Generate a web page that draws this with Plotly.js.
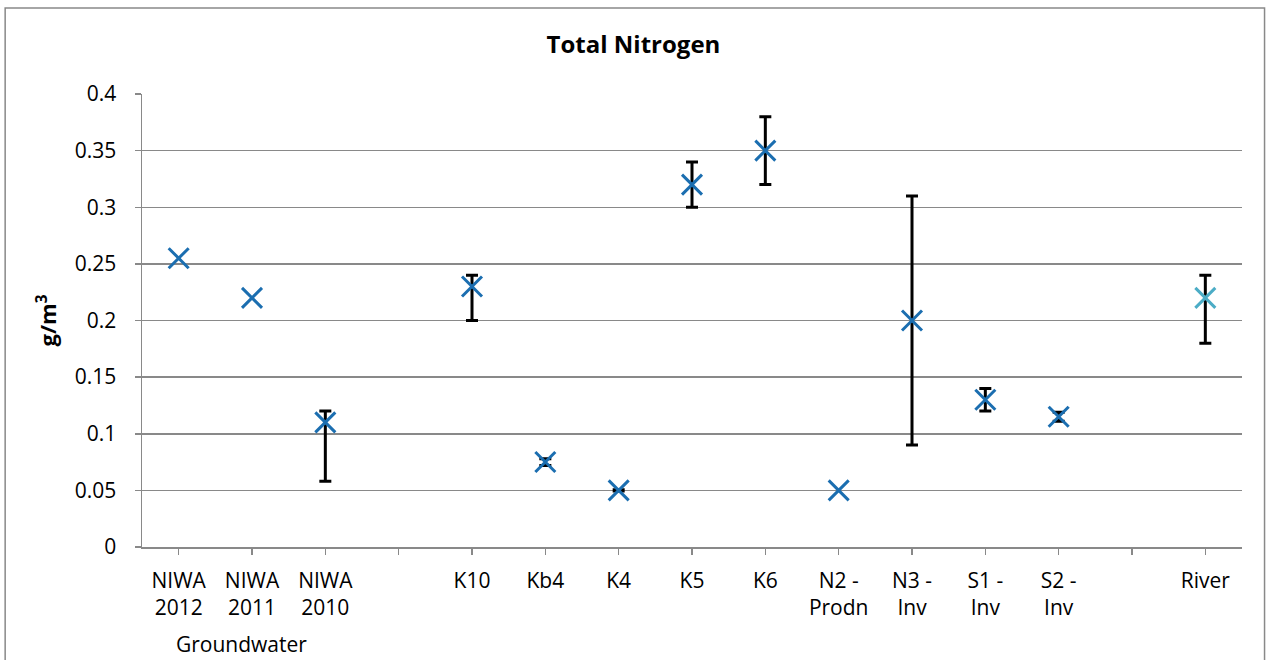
<!DOCTYPE html>
<html>
<head>
<meta charset="utf-8">
<script src="https://cdn.plot.ly/plotly-3.0.1.min.js"></script>
<style>html,body{margin:0;padding:0;background:#fff;}#chart{width:1267px;height:660px;}</style>
</head>
<body>
<div id="chart"></div>
<script>
// Category labels (blank slots are spacer categories)
const categories = ["NIWA<br>2012","NIWA<br>2011","NIWA<br>2010"," ","K10","Kb4","K4","K5","K6","N2 -<br>Prodn","N3 -<br>Inv","S1 -<br>Inv","S2 -<br>Inv"," ","River"];
// Site series (values in g/m3)
const siteNames = ["NIWA 2012","NIWA 2011","NIWA 2010","K10","Kb4","K4","K5","K6","N2 - Prodn","N3 - Inv","S1 - Inv","S2 - Inv"];
const siteIndex = [0,1,2,4,5,6,7,8,9,10,11,12];
const siteValues = [0.255,0.22,0.11,0.23,0.075,0.05,0.32,0.35,0.05,0.2,0.13,0.115];
const siteMax    = [null,null,0.12,0.24,0.078,0.0505,0.34,0.38,null,0.31,0.14,0.119];
const siteMin    = [null,null,0.058,0.2,0.072,0.0495,0.30,0.32,null,0.09,0.12,0.111];
// River series
const riverIndex = [14];
const riverValues = [0.22];
const riverMax = [0.24];
const riverMin = [0.18];

const up = (v, mx) => v.map((d,i)=> mx[i]===null ? NaN : +(mx[i]-d).toFixed(4));
const dn = (v, mn) => v.map((d,i)=> mn[i]===null ? NaN : +(d-mn[i]).toFixed(4));

const errStyle = {type:'data', symmetric:false, color:'#000', thickness:3, width:6};

const traces = [
  {x: siteIndex, y: siteValues, text: siteNames, type:'scatter', mode:'markers',
   marker:{symbol:'x-thin-open', size:20, line:{width:3, color:'#1B6EB0'}, color:'#1B6EB0'},
   error_y: Object.assign({array: up(siteValues, siteMax), arrayminus: dn(siteValues, siteMin)}, errStyle),
   showlegend:false, hoverinfo:'text+y'},
  {x: riverIndex, y: riverValues, text:["River"], type:'scatter', mode:'markers',
   marker:{symbol:'x-thin-open', size:20, line:{width:3, color:'#4BACC6'}, color:'#4BACC6'},
   error_y: Object.assign({array: up(riverValues, riverMax), arrayminus: dn(riverValues, riverMin)}, errStyle),
   showlegend:false, hoverinfo:'text+y'}
];

const fontFam = '"Open Sans", "Noto Sans", sans-serif';
const layout = {
  width:1267, height:660,
  margin:{l:142, r:25, t:94, b:113},
  paper_bgcolor:'#fff', plot_bgcolor:'#fff',
  font:{family:fontFam, size:21, color:'#000'},
  title:{text:'<b>Total Nitrogen</b>', font:{size:24, family:fontFam, color:'#000'}, x:0.5, xanchor:'center', y:0.932, yanchor:'middle'},
  xaxis:{
    range:[-0.5,14.5], tickmode:'array', tickvals: categories.map((c,i)=>i), ticktext: categories,
    showgrid:false, zeroline:false, showline:true, linecolor:'#898989', linewidth:1.5,
    ticks:'outside', ticklen:6, tickcolor:'#898989', tickwidth:1.5,
    ticklabelstandoff:8,
    tickfont:{size:21, family:fontFam}, fixedrange:true
  },
  yaxis:{
    range:[0,0.4], dtick:0.05, tick0:0,
    showgrid:true, gridcolor:'#898989', gridwidth:1.5, zeroline:false,
    showline:true, linecolor:'#898989', linewidth:1.5,
    ticks:'outside', ticklen:6, tickcolor:'#898989', tickwidth:1.5,
    ticklabelstandoff:14,
    tickfont:{size:21, family:fontFam},
    title:{text:'<b>g/m<sup>3</sup></b>', font:{size:22, family:fontFam}, standoff:12},
    fixedrange:true
  },
  annotations:[
    {text:'Groundwater', xref:'x', yref:'paper', x:0.85, y:-0.214, xanchor:'center', yanchor:'middle', showarrow:false, font:{size:21, family:fontFam}}
  ],
  shapes:[
    {type:'rect', xref:'paper', yref:'paper', x0:-0.1244, x1:1.0205, y0:1.19, y1:-0.5, line:{color:'#898989', width:1.5}, fillcolor:'rgba(0,0,0,0)', layer:'below'}
  ]
};
Plotly.newPlot('chart', traces, layout, {displayModeBar:false, staticPlot:true});
</script>
</body>
</html>
